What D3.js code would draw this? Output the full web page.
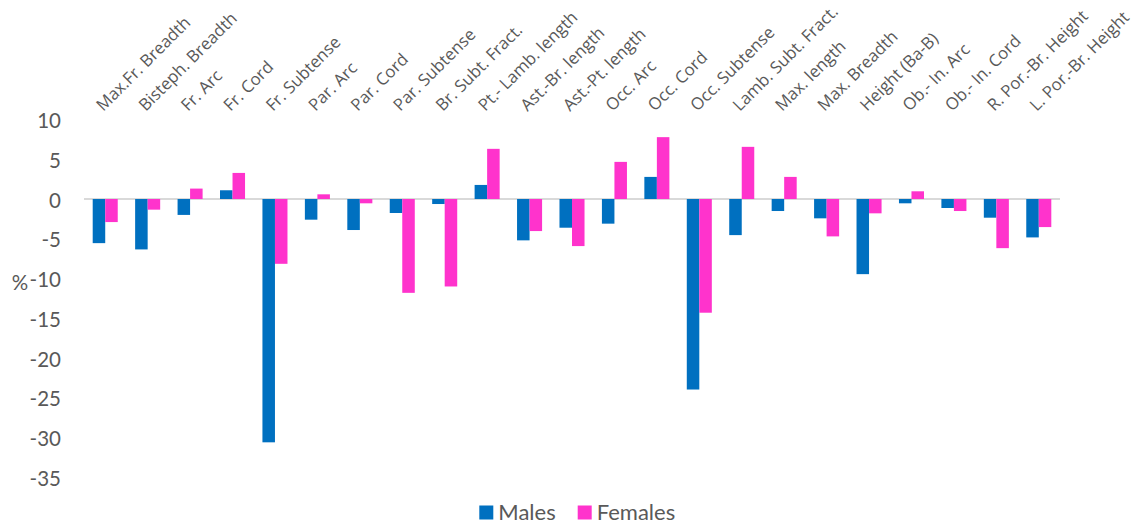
<!DOCTYPE html>
<html>
<head>
<meta charset="utf-8">
<script src="https://cdn.jsdelivr.net/npm/d3@7/dist/d3.min.js"></script>
<style>
  html, body { margin: 0; padding: 0; background: #fff; }
  svg { display: block; }
</style>
</head>
<body>
<svg id="chart" width="1145" height="523"></svg>
<script>
// Cranial measurements: percentage difference per variable
const categories = [
  "Max.Fr. Breadth", "Bisteph. Breadth", "Fr. Arc", "Fr. Cord", "Fr. Subtense",
  "Par. Arc", "Par. Cord", "Par. Subtense", "Br. Subt. Fract.", "Pt.- Lamb. length",
  "Ast.-Br. length", "Ast.-Pt. length", "Occ. Arc", "Occ. Cord", "Occ. Subtense",
  "Lamb. Subt. Fract.", "Max. length", "Max. Breadth", "Height (Ba-B)", "Ob.- In. Arc",
  "Ob.- In. Cord", "R. Por.-Br. Height", "L. Por.-Br. Height"
];
const males = [-5.55, -6.34, -2.0, 1.1, -30.6, -2.6, -3.9, -1.76, -0.63, 1.77,
  -5.2, -3.61, -3.1, 2.78, -23.96, -4.54, -1.51, -2.43, -9.45, -0.54,
  -1.13, -2.35, -4.83];
const females = [-2.9, -1.34, 1.31, 3.28, -8.15, 0.59, -0.54, -11.8, -11.0, 6.31,
  -4.03, -5.92, 4.67, 7.78, -14.3, 6.56, 2.78, -4.7, -1.8, 0.97,
  -1.51, -6.18, -3.53];
const seriesNames = ["Males", "Females"];
const seriesColors = ["#0070C0", "#FF33CC"];
const yTicks = [10, 5, 0, -5, -10, -15, -20, -25, -30, -35];

const svg = d3.select("#chart");
const textColor = "#595959";
const numFont = "Lato, 'Open Sans', sans-serif";
const catFont = "'Open Sans', sans-serif";

const x0 = d3.scaleBand().domain(categories).range([84, 1060])
  .paddingInner(0.41).paddingOuter(0.205);
const x1 = d3.scaleBand().domain(seriesNames).range([0, x0.bandwidth()]).padding(0);
const y = d3.scaleLinear().domain([-35, 10]).range([477.3, 119.5]);

// zero baseline
svg.append("line")
  .attr("x1", 84).attr("x2", 1060)
  .attr("y1", y(0)).attr("y2", y(0))
  .attr("stroke", "#D9D9D9").attr("stroke-width", 2);

// bars
const rows = categories.map((c, i) => ({ cat: c, vals: [males[i], females[i]] }));
const groups = svg.append("g").selectAll("g").data(rows).join("g")
  .attr("transform", d => `translate(${x0(d.cat)},0)`);
groups.selectAll("rect")
  .data(d => d.vals.map((v, k) => ({ name: seriesNames[k], v, k })))
  .join("rect")
  .attr("x", d => x1(d.name))
  .attr("width", x1.bandwidth())
  .attr("y", d => y(Math.max(0, d.v)))
  .attr("height", d => Math.abs(y(d.v) - y(0)))
  .attr("fill", d => seriesColors[d.k]);

// y axis labels (no axis line), plain hyphen for negatives
const yAxis = d3.axisLeft(y).tickValues(yTicks).tickSize(0).tickPadding(0)
  .tickFormat(d => String(d));
const yg = svg.append("g").attr("transform", "translate(61,1.5)").call(yAxis);
yg.select(".domain").remove();
yg.selectAll("text")
  .attr("font-family", numFont).attr("font-size", 20.5)
  .attr("fill", textColor);

// axis title
svg.append("text")
  .attr("x", 20).attr("y", 290)
  .attr("text-anchor", "middle")
  .attr("font-family", numFont).attr("font-size", 20.5)
  .attr("fill", textColor)
  .text("%");

// category labels, rotated above the plot
svg.append("g").selectAll("text").data(categories).join("text")
  .attr("transform", d => `translate(${x0(d) + x0.bandwidth() / 2 - 2},112) rotate(-45)`)
  .attr("text-anchor", "start")
  .attr("font-family", catFont).attr("font-size", 16.8)
  .attr("fill", textColor)
  .text(d => d);

// legend
const legendX = [479.3, 577.7];
const legend = svg.append("g").selectAll("g").data(seriesNames).join("g")
  .attr("transform", (d, i) => `translate(${legendX[i]},505.5)`);
legend.append("rect")
  .attr("width", 14).attr("height", 14)
  .attr("fill", (d, i) => seriesColors[i]);
legend.append("text")
  .attr("x", 19).attr("y", 14)
  .attr("font-family", numFont).attr("font-size", 22)
  .attr("fill", textColor)
  .text(d => d);
</script>
</body>
</html>
